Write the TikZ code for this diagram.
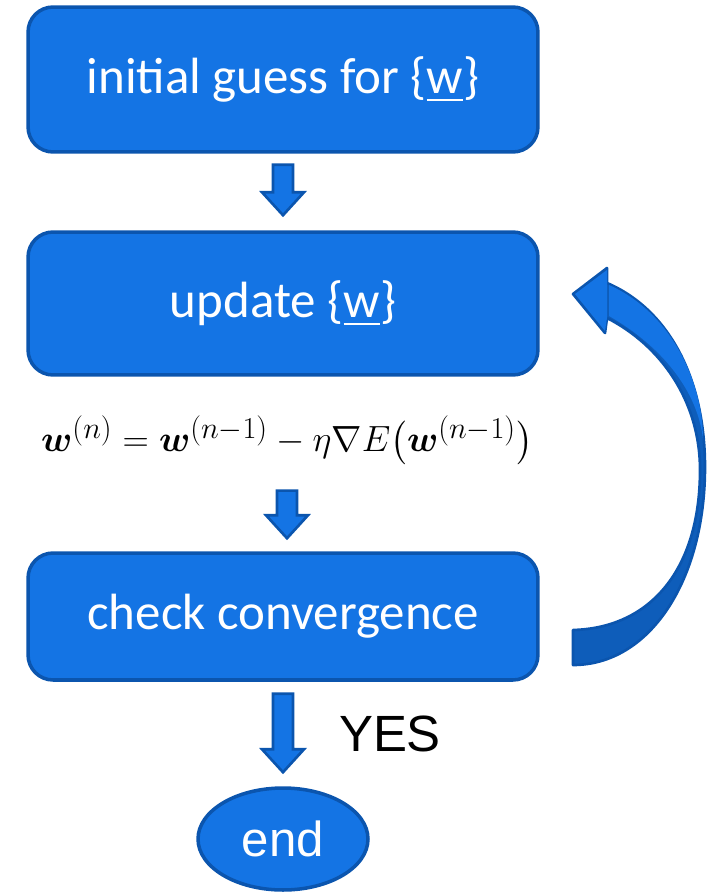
\documentclass[tikz,border=0pt]{standalone}
\usepackage{amsmath}
\usepackage{fontspec}
\setmainfont{Carlito}
\newfontfamily\arialfont{Liberation Sans}
\usetikzlibrary{shapes.geometric,calc,positioning}
\definecolor{boxblue}{HTML}{1474E4}
\definecolor{edgeblue}{HTML}{0B55AE}
\definecolor{backblue}{HTML}{0E5DBA}
\tikzset{
	stepbox/.style={draw=edgeblue,fill=boxblue,line width=2pt,rounded corners=0.5cm,
		minimum width=10.2cm,text=white,font=\fontsize{29}{34}\selectfont},
	endbox/.style={ellipse,draw=edgeblue,fill=boxblue,line width=2pt,
		minimum width=3.4cm,minimum height=2.04cm,inner sep=0pt,text=white,font=\arialfont\fontsize{28}{32}\selectfont},
	blockarr/.style={draw=edgeblue,fill=boxblue,line width=1.5pt,line join=miter}
}
% fat arrow from #1 down to the tip #2
\newcommand{\blockarrow}[2]{%
	\path (#1) coordinate (ba-s) (#2) coordinate (ba-t);
	\filldraw[blockarr] let \p1=(ba-s), \p2=(ba-t) in
		(\x1-0.2cm,\y1) -- (\x1+0.2cm,\y1) -- (\x1+0.2cm,\y2+0.46cm) -- (\x1+0.42cm,\y2+0.46cm)
		-- (\x1,\y2) -- (\x1-0.42cm,\y2+0.46cm) -- (\x1-0.2cm,\y2+0.46cm) -- cycle;
}

\begin{document}
\begin{tikzpicture}[x=0.02cm,y=-0.02cm]
\useasboundingbox (0,0) rectangle (717,892);
\node (init) at (283,79.5) [stepbox,minimum height=2.9cm] {initial guess for \{\underline{w}\}};
\node (upd) at (283,303.5) [stepbox,minimum height=2.86cm] {update \{\underline{w}\}};
\node (rule) at (287,440) {\fontsize{22.8}{27}\selectfont
	$\boldsymbol{w}^{(n)}=\boldsymbol{w}^{(n-1)}-\eta\nabla E\big(\boldsymbol{w}^{(n-1)}\big)$};
\node (chk) at (283,616.5) [stepbox,minimum height=2.54cm] {check convergence};
\node (end) at (283,839) [endbox] {end};
\node (yes) at (390,734) [font=\arialfont\fontsize{29}{32}\selectfont] {YES};

\blockarrow{$(init.south)+(0,11)$}{$(upd.north)+(0,-15)$}
\blockarrow{$(rule.south)+(0,20)$}{$(chk.north)+(0,-13)$}
\blockarrow{$(chk.south)+(0,12)$}{$(end.north)+(0,-14)$}

% loop back from check convergence to update
\filldraw[draw=edgeblue,fill=backblue,line width=1.5pt,line join=round]
	(573,630) .. controls (650,628) and (700,570) .. (700,470)
	.. controls (700,400) and (660,345) .. (607,318)
	-- (605,333) -- (573,294) -- (607,268) -- (607,283)
	.. controls (670,310) and (705,380) .. (705,467)
	.. controls (705,580) and (650,665) .. (573,665) -- cycle;
\fill[boxblue] (609,285) .. controls (670,312) and (703,380) .. (703,440)
	.. controls (698,390) and (660,345) .. (609,316) -- cycle;
\fill[boxblue] (607,283) -- (607,270) -- (575,294) -- (605,331) -- (607,318) -- cycle;
\end{tikzpicture}
\end{document}
